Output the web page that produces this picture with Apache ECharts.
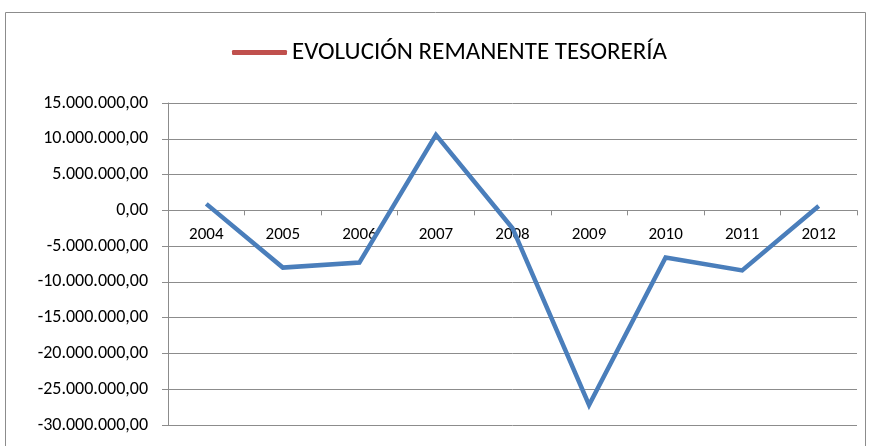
<!DOCTYPE html>
<html><head><meta charset="utf-8">
<script src="https://cdn.jsdelivr.net/npm/echarts@6/dist/echarts.min.js"></script>
<style>html,body{margin:0;padding:0;background:#fff}#c{width:872px;height:446px}</style>
</head><body><div id="c"></div>
<script>
const years = ['2004','2005','2006','2007','2008','2009','2010','2011','2012'];
const remanente = [900000, -8000000, -7300000, 10550000, -2500000, -27200000, -6600000, -8400000, 600000];
const seriesName = 'EVOLUCIÓN REMANENTE TESORERÍA';
const yMin = -30000000, yMax = 15000000, yStep = 5000000;
const FONT = 'Carlito, "Liberation Sans Narrow", "Open Sans", sans-serif';

function fmt(v){
  const neg = v < 0; const a = Math.abs(Math.round(v));
  const s = String(a).replace(/\B(?=(\d{3})+(?!\d))/g, '.');
  return (neg ? '-' : '') + s + ',00';
}

const W = 872, H = 446;
const gTop = 103, gBottom = 21;
const plotH = H - gTop - gBottom;
const zeroOffset = -((0 - yMin) / (yMax - yMin)) * plotH;

const chart = echarts.init(document.getElementById('c'), null, {renderer:'canvas'});
chart.setOption({
  animation:false,
  backgroundColor:'#fff',
  graphic:[{type:'rect', shape:{x:5.5,y:12.5,width:860,height:460}, style:{fill:'none', stroke:'#8c8c8c', lineWidth:1}, silent:true}],
  legend:{
    top:35, left:227,
    itemWidth:55, itemHeight:5, itemGap:2,
    icon:'roundRect',
    data:[{name:seriesName, itemStyle:{color:'#c0504d'}}],
    textStyle:{fontFamily:FONT, fontSize:25, color:'#000'}
  },
  grid:{left:168, right:15, top:gTop, bottom:gBottom, containLabel:false, outerBoundsMode:'none'},
  xAxis:{
    type:'category', data:years, boundaryGap:true, position:'bottom', offset:zeroOffset,
    axisLine:{onZero:false, lineStyle:{color:'#8c8c8c', width:1}},
    axisTick:{show:true, length:5, lineStyle:{color:'#8c8c8c'}},
    axisLabel:{fontFamily:FONT, fontSize:17, color:'#000', margin:16},
    splitLine:{show:false}
  },
  yAxis:{
    type:'value', min:yMin, max:yMax, interval:yStep,
    axisLine:{show:true, lineStyle:{color:'#8c8c8c'}},
    axisTick:{show:true, length:6, lineStyle:{color:'#8c8c8c'}},
    axisLabel:{fontFamily:FONT, fontSize:18, color:'#000', margin:20, formatter:fmt},
    splitLine:{show:true, lineStyle:{color:'#8c8c8c', width:1}}
  },
  series:[{
    name:seriesName, type:'line', data:remanente,
    symbol:'none', lineStyle:{color:'#4a7ebb', width:4.5, join:'miter'},
    itemStyle:{color:'#4a7ebb'}
  }]
});
</script></body></html>
